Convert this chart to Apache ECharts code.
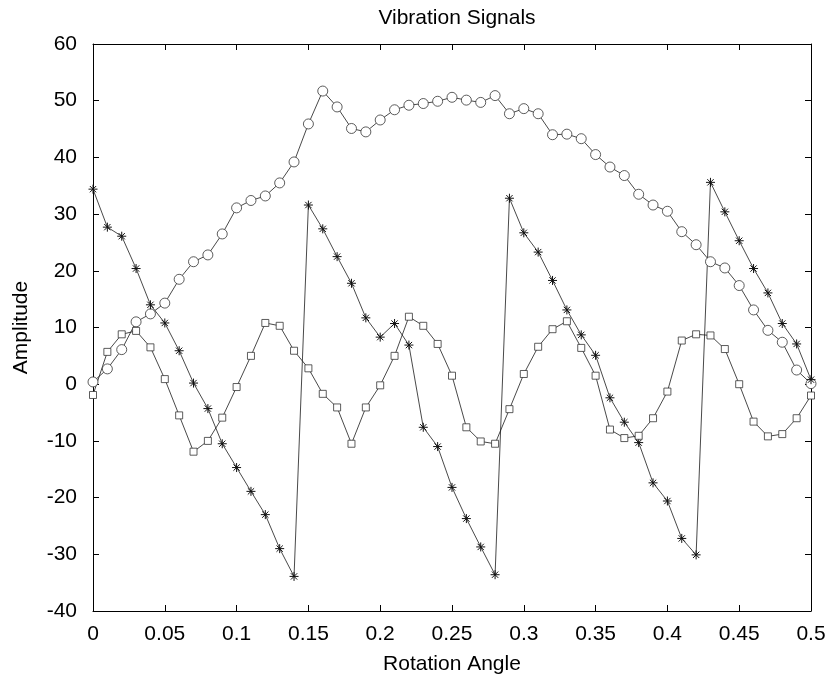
<!DOCTYPE html>
<html><head><meta charset="utf-8">
<script src="https://cdn.jsdelivr.net/npm/echarts@6/dist/echarts.min.js"></script>
<style>html,body{margin:0;padding:0;background:#fff}#c{width:827px;height:678px}</style>
</head><body><div id="c"></div>
<script>
const angles = [0,0.01,0.02,0.03,0.04,0.05,0.06,0.07,0.08,0.09,0.10,0.11,0.12,0.13,0.14,0.15,0.16,0.17,0.18,0.19,0.20,0.21,0.22,0.23,0.24,0.25,0.26,0.27,0.28,0.29,0.30,0.31,0.32,0.33,0.34,0.35,0.36,0.37,0.38,0.39,0.40,0.41,0.42,0.43,0.44,0.45,0.46,0.47,0.48,0.49,0.50];
const circleSignal = [0.4,2.7,6.1,11.0,12.4,14.3,18.5,21.6,22.8,26.5,31.1,32.4,33.2,35.5,39.2,45.9,51.7,48.9,45.1,44.5,46.6,48.4,49.2,49.5,49.9,50.6,50.1,49.7,50.9,47.7,48.6,47.7,44.0,44.1,43.3,40.5,38.3,36.8,33.5,31.6,30.5,26.9,24.6,21.6,20.5,17.4,13.1,9.5,7.4,2.5,0.1];
const starSignal = [34.4,27.7,26.1,20.4,14.0,10.8,5.9,0.2,-4.3,-10.5,-14.7,-18.9,-23.0,-29.0,-33.9,31.6,27.4,22.5,17.8,11.7,8.3,10.7,6.9,-7.6,-11.0,-18.2,-23.7,-28.7,-33.6,32.8,26.7,23.3,18.3,13.1,8.7,5.1,-2.4,-6.7,-10.3,-17.4,-20.6,-27.2,-30.1,35.6,30.4,25.3,20.4,16.1,10.7,7.1,0.8];
const squareSignal = [-1.9,5.7,8.8,9.4,6.5,0.9,-5.5,-11.9,-10.0,-5.9,-0.5,5.0,10.8,10.3,5.9,2.8,-1.7,-4.1,-10.5,-4.1,-0.2,5.0,11.9,10.3,7.1,1.5,-7.6,-10.1,-10.5,-4.4,1.8,6.6,9.7,11.1,6.4,1.5,-8.0,-9.5,-9.1,-6.0,-1.3,7.7,8.8,8.6,6.2,0.0,-6.6,-9.2,-8.8,-6.0,-2.0];

const font = 'Liberation Sans, Arial, sans-serif';
const pair = arr => angles.map((a,i)=>[a,arr[i]]);
const lineStyle = {color:'#1a1a1a', width:0.8};
const asterisk = 'path://M5,0L5,10M0,5L10,5M1.5,1.5L8.5,8.5M1.5,8.5L8.5,1.5';

const chart = echarts.init(document.getElementById('c'), null, {renderer:'canvas'});
const axisCommon = () => ({
  axisLine:{show:true, onZero:false, lineStyle:{color:'#000', width:1}},
  axisTick:{show:true, inside:true, length:6, lineStyle:{color:'#000'}},
  splitLine:{show:false}
});
chart.setOption({
  animation:false,
  backgroundColor:'#fff',
  title:{text:'Vibration Signals', left:452, textAlign:'center', top:3, textStyle:{fontFamily:font, fontSize:21, fontWeight:'normal', color:'#000'}},
  grid:{left:93, right:16, top:44, bottom:67, containLabel:false, outerBoundsMode:'none'},
  xAxis:[
    Object.assign({type:'value', min:0, max:0.5, interval:0.05, name:'Rotation Angle', nameLocation:'middle', nameGap:43,
      nameTextStyle:{fontFamily:font, fontSize:21, color:'#000'},
      axisLabel:{fontFamily:font, fontSize:21, color:'#000', margin:13}}, axisCommon()),
    Object.assign({type:'value', position:'top', min:0, max:0.5, interval:0.05, axisLabel:{show:false}}, axisCommon())
  ],
  yAxis:[
    Object.assign({type:'value', min:-40, max:60, interval:10, name:'Amplitude', nameLocation:'middle', nameGap:61,
      nameTextStyle:{fontFamily:font, fontSize:21, color:'#000'},
      axisLabel:{fontFamily:font, fontSize:21, color:'#000', margin:16}}, axisCommon()),
    Object.assign({type:'value', position:'right', min:-40, max:60, interval:10, axisLabel:{show:false}}, axisCommon())
  ],
  series:[
    {type:'line', data:pair(circleSignal), symbol:'circle', symbolSize:10, showAllSymbol:true,
      lineStyle, itemStyle:{color:'#fff', borderColor:'#333', borderWidth:0.8}},
    {type:'line', data:pair(starSignal), symbol:asterisk, symbolSize:9, showAllSymbol:true,
      lineStyle, itemStyle:{color:'none', borderColor:'#111', borderWidth:1}},
    {type:'line', data:pair(squareSignal), symbol:'rect', symbolSize:7, showAllSymbol:true,
      lineStyle, itemStyle:{color:'#fff', borderColor:'#333', borderWidth:0.8}}
  ]
});
</script></body></html>
